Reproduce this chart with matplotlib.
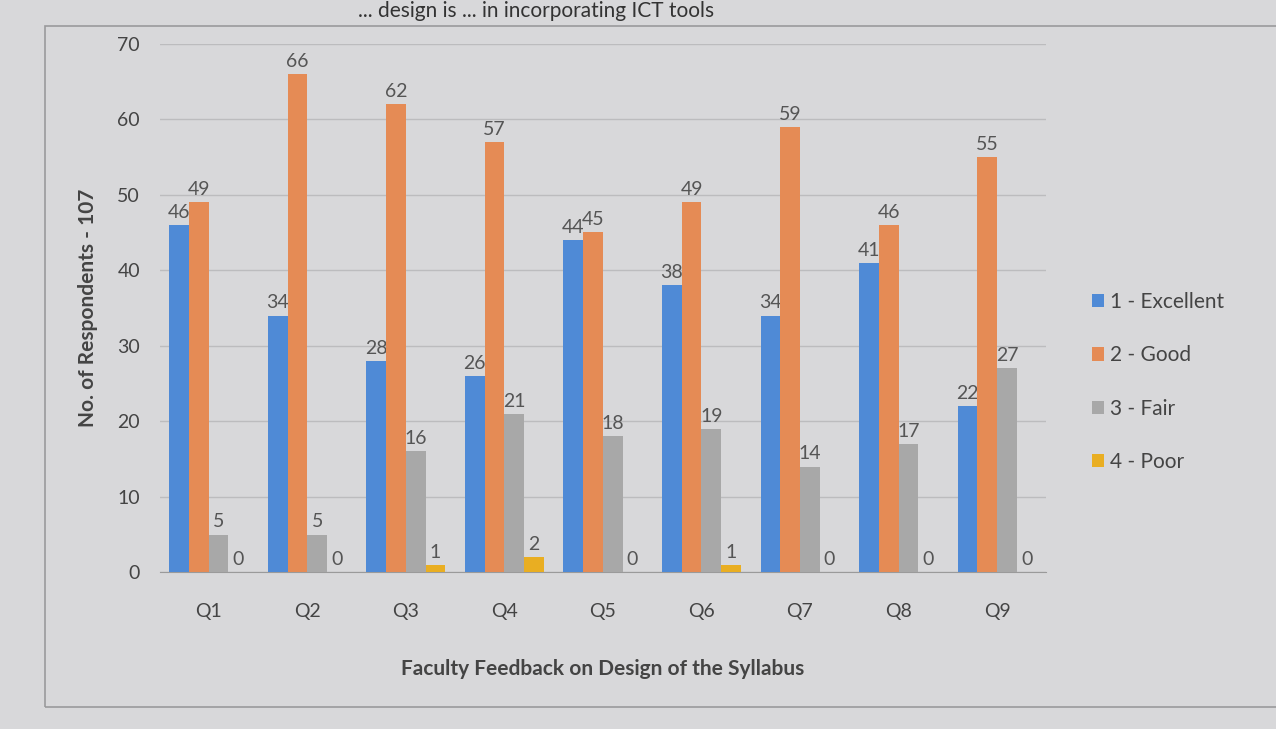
import matplotlib.pyplot as plt
import numpy as np
from matplotlib.patches import Rectangle

plt.rcParams['font.family'] = ['Lato', 'DejaVu Sans']

# data
questions = ['Q1', 'Q2', 'Q3', 'Q4', 'Q5', 'Q6', 'Q7', 'Q8', 'Q9']
excellent = [46, 34, 28, 26, 44, 38, 34, 41, 22]
good = [49, 66, 62, 57, 45, 49, 59, 46, 55]
fair = [5, 5, 16, 21, 18, 19, 14, 17, 27]
poor = [0, 0, 1, 2, 0, 1, 0, 0, 0]

series = [('1 - Excellent', excellent, '#4f8ad6'),
          ('2 - Good', good, '#e58b55'),
          ('3 - Fair', fair, '#a8a8a8'),
          ('4 - Poor', poor, '#e9ae22')]

bg = '#d8d8da'
fig = plt.figure(figsize=(12.76, 7.29), dpi=100, facecolor=bg)
ax = fig.add_axes([0.125, 0.215, 0.695, 0.725], facecolor=bg)

# outer chart border
fig.patches.append(Rectangle((0.035, 0.03), 0.98, 0.935, transform=fig.transFigure,
                             fill=False, edgecolor='#9a9a9c', linewidth=1.2))

x = np.arange(len(questions))
w = 0.2
for i, (name, vals, col) in enumerate(series):
    pos = x + (i - 1.5) * w
    bars = ax.bar(pos, vals, w, color=col, label=name, zorder=3)
    ax.bar_label(bars, labels=[str(v) for v in vals], padding=3,
                 fontsize=14, color='#555555')

ax.set_ylim(0, 70)
ax.set_xlim(-0.5, len(questions) - 0.5)
ax.set_yticks(range(0, 71, 10))
ax.set_xticks(x)
ax.set_xticklabels(questions)
ax.tick_params(axis='both', labelsize=14, colors='#444444', length=0)
ax.tick_params(axis='x', pad=22)
ax.tick_params(axis='y', pad=14)
ax.yaxis.grid(True, color='#bcbcbe', linewidth=1, zorder=0)
for s in ['top', 'right', 'left']:
    ax.spines[s].set_visible(False)
ax.spines['bottom'].set_color('#9a9a9a')

ax.set_ylabel('No. of Respondents - 107', fontsize=15, fontweight='bold',
              color='#444444', labelpad=14)
ax.set_xlabel('Faculty Feedback on Design of the Syllabus', fontsize=15,
              fontweight='bold', color='#444444', labelpad=28)

fig.text(0.42, 0.998, '... design is ... in incorporating ICT tools',
         ha='center', va='top', fontsize=15, color='#333333')

ax.legend(loc='center left', bbox_to_anchor=(1.03, 0.36), frameon=False,
          fontsize=15, labelcolor='#444444', handlelength=0.6, handleheight=0.6,
          labelspacing=1.6, handletextpad=0.3)

fig.savefig('out.png', dpi=100, facecolor=bg)
